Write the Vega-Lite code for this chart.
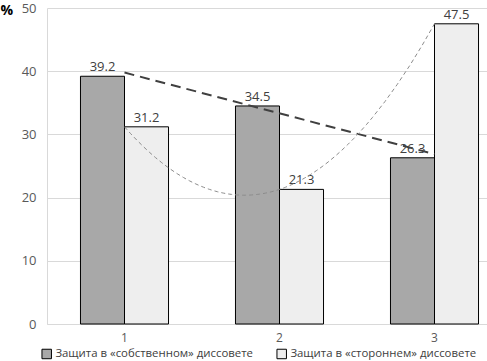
{
  "$schema": "https://vega.github.io/schema/vega-lite/v6.json",
  "width": 440,
  "height": 316,
  "autosize": {"type": "none"},
  "padding": {"left": 47, "top": 8, "right": 0, "bottom": 37},
  "config": {
    "font": "Open Sans",
    "view": {"stroke": null},
    "axis": {"labelFont": "Open Sans", "titleFont": "Open Sans"},
    "legend": {"labelFont": "Open Sans"}
  },
  "data": {
    "values": [
      {"cat": "1", "x": 1, "series": "Защита в «собственном» диссовете", "value": 39.2},
      {"cat": "1", "x": 1, "series": "Защита в «стороннем» диссовете", "value": 31.2},
      {"cat": "2", "x": 2, "series": "Защита в «собственном» диссовете", "value": 34.5},
      {"cat": "2", "x": 2, "series": "Защита в «стороннем» диссовете", "value": 21.3},
      {"cat": "3", "x": 3, "series": "Защита в «собственном» диссовете", "value": 26.3},
      {"cat": "3", "x": 3, "series": "Защита в «стороннем» диссовете", "value": 47.5}
    ]
  },
  "resolve": {"scale": {"x": "independent"}},
  "layer": [
    {
      "mark": {"type": "bar", "stroke": "#000000", "strokeWidth": 1},
      "encoding": {
        "x": {
          "field": "cat", "type": "nominal",
          "scale": {"range": [0, 465], "paddingInner": 0.432, "paddingOuter": 0.216},
          "axis": {"title": null, "labelAngle": 0, "ticks": false, "domain": true, "domainColor": "#d9d9d9", "labelColor": "#595959", "labelFontSize": 12, "labelPadding": 8}
        },
        "xOffset": {"field": "series", "type": "nominal", "sort": ["Защита в «собственном» диссовете", "Защита в «стороннем» диссовете"]},
        "y": {
          "field": "value", "type": "quantitative",
          "scale": {"domain": [0, 50], "nice": false},
          "axis": {
            "values": [0, 10, 20, 30, 40, 50], "ticks": false, "domain": true, "domainColor": "#d9d9d9",
            "gridColor": "#d9d9d9", "labelColor": "#595959", "labelFontSize": 13, "labelPadding": 11,
            "title": "%", "titleAngle": 0, "titleX": -47, "titleY": 2, "titleAlign": "left", "titleBaseline": "middle",
            "titleFontSize": 14, "titleFontWeight": "bold", "titleColor": "#000000"
          }
        },
        "color": {
          "field": "series", "type": "nominal",
          "scale": {"domain": ["Защита в «собственном» диссовете", "Защита в «стороннем» диссовете"], "range": ["#a8a8a8", "#eeeeee"]},
          "legend": {
            "title": null, "orient": "none", "legendX": -6, "legendY": 340, "direction": "horizontal", "columns": 2,
            "columnPadding": 21, "symbolType": "square", "symbolSize": 90, "symbolStrokeColor": "#000000", "symbolStrokeWidth": 1,
            "labelFontSize": 11.4, "labelColor": "#404040", "labelOffset": 3, "labelLimit": 400
          }
        }
      }
    },
    {
      "mark": {"type": "text", "dy": -9, "fontSize": 13, "color": "#404040"},
      "encoding": {
        "x": {"field": "cat", "type": "nominal", "scale": {"range": [0, 465], "paddingInner": 0.432, "paddingOuter": 0.216}, "axis": null},
        "xOffset": {"field": "series", "type": "nominal", "sort": ["Защита в «собственном» диссовете", "Защита в «стороннем» диссовете"]},
        "y": {"field": "value", "type": "quantitative"},
        "text": {"field": "value", "type": "quantitative", "format": ".1f"}
      }
    },
    {
      "transform": [
        {"filter": "datum.series == 'Защита в «собственном» диссовете'"},
        {"regression": "value", "on": "x", "method": "linear", "extent": [1, 3]}
      ],
      "mark": {"type": "line", "stroke": "#404040", "strokeWidth": 2, "strokeDash": [10, 6]},
      "encoding": {
        "x": {"field": "x", "type": "quantitative", "scale": {"domain": [0.5, 3.5], "range": [0, 465], "nice": false, "zero": false}, "axis": null},
        "y": {"field": "value", "type": "quantitative"}
      }
    },
    {
      "transform": [
        {"filter": "datum.series == 'Защита в «стороннем» диссовете'"},
        {"regression": "value", "on": "x", "method": "poly", "order": 2, "extent": [1, 3]}
      ],
      "mark": {"type": "line", "stroke": "#8c8c8c", "strokeWidth": 1, "strokeDash": [4, 3]},
      "encoding": {
        "x": {"field": "x", "type": "quantitative", "scale": {"domain": [0.5, 3.5], "range": [0, 465], "nice": false, "zero": false}, "axis": null},
        "y": {"field": "value", "type": "quantitative"}
      }
    }
  ]
}
